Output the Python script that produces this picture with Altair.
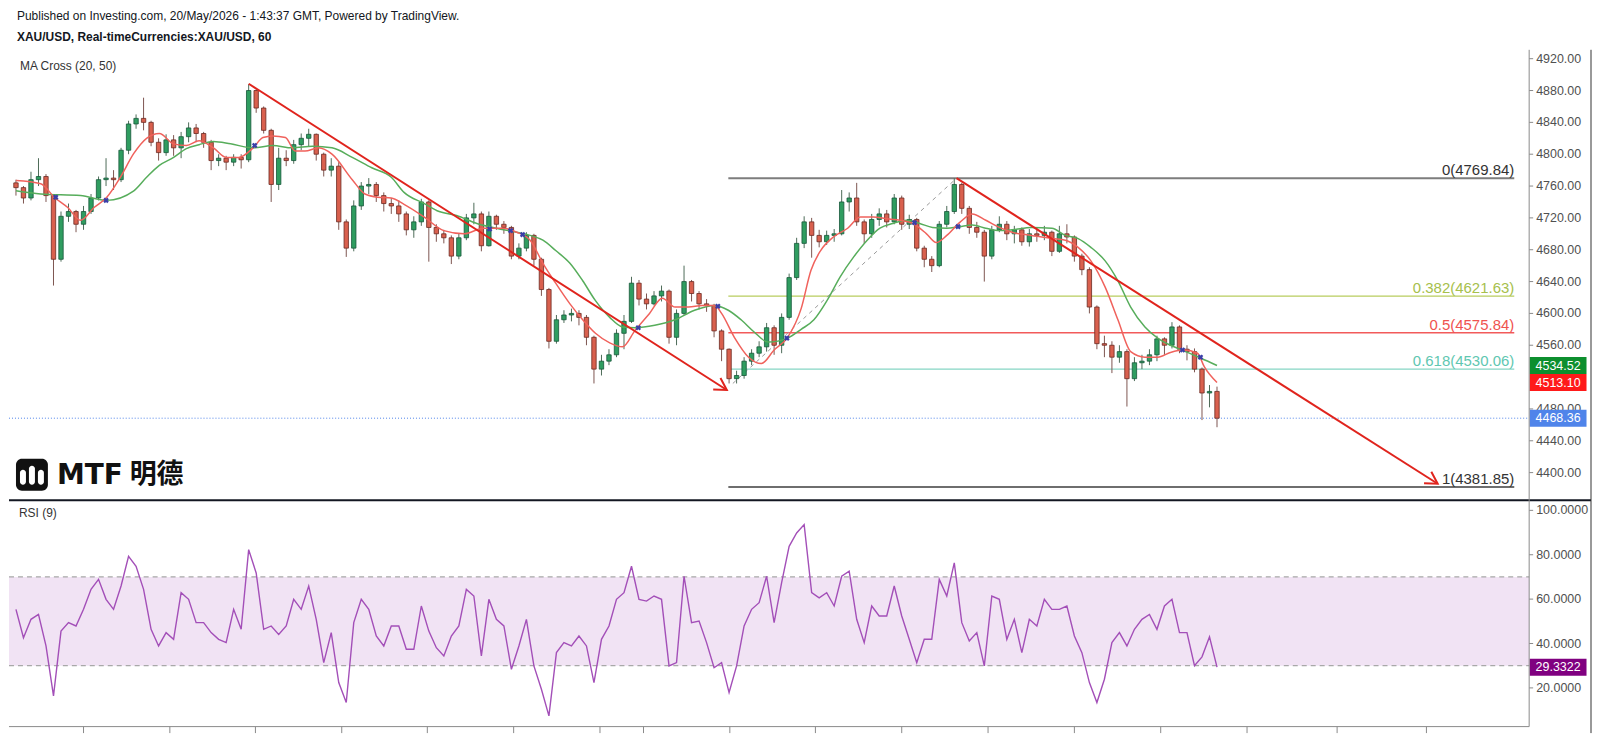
import altair as alt
import pandas as pd

# ---------------- text ----------------
HEADER_1 = "Published on Investing.com, 20/May/2026 - 1:43:37 GMT, Powered by TradingView."
HEADER_2 = "XAU/USD, Real-timeCurrencies:XAU/USD, 60"
MA_TITLE = "MA Cross (20, 50)"
RSI_TITLE = "RSI (9)"
LOGO_LATIN = "MTF"
LOGO_CJK = "明德"

# ---------------- data (2-hour bars, index 0..160) ----------------
first_open = 4764.0
closes = [
    4758, 4745, 4768, 4772, 4748, 4668, 4722, 4728, 4712, 4728,
    4745, 4768, 4770, 4768, 4805, 4838, 4845, 4840, 4815, 4802,
    4818, 4808, 4822, 4833, 4826, 4815, 4792, 4795, 4790, 4796,
    4793, 4880, 4858, 4830, 4762, 4795, 4792, 4812, 4820, 4825,
    4800, 4780, 4785, 4715, 4682, 4735, 4760, 4762, 4748, 4738,
    4735, 4725, 4705, 4715, 4740, 4708, 4700, 4695, 4672, 4695,
    4720, 4725, 4685, 4722, 4712, 4708, 4672, 4682, 4698, 4668,
    4630, 4565, 4592, 4598, 4600, 4595, 4570, 4530, 4540, 4548,
    4575, 4590, 4638, 4618, 4612, 4622, 4628, 4570, 4600, 4640,
    4625, 4612, 4610, 4578, 4555, 4518, 4522, 4540, 4550, 4558,
    4582, 4560, 4595, 4645, 4688, 4715, 4698, 4690, 4698, 4700,
    4740, 4745, 4715, 4700, 4718, 4725, 4715, 4745, 4712, 4718,
    4682, 4668, 4660, 4712, 4728, 4762, 4732, 4708, 4702, 4672,
    4705, 4712, 4700, 4705, 4690, 4700, 4698, 4702, 4678, 4700,
    4696, 4672, 4655, 4608, 4562, 4560, 4545, 4552, 4518, 4538,
    4540, 4548, 4568, 4560, 4583, 4555, 4552, 4530, 4500, 4502,
    4468.36]
highs = [
    4768, 4760, 4778, 4795, 4775, 4750, 4728, 4738, 4730, 4735,
    4750, 4772, 4795, 4780, 4808, 4842, 4850, 4871, 4842, 4820,
    4825, 4824, 4828, 4840, 4838, 4828, 4818, 4800, 4798, 4800,
    4800, 4888, 4882, 4860, 4832, 4808, 4805, 4818, 4826, 4832,
    4826, 4802, 4795, 4790, 4718, 4742, 4765, 4770, 4765, 4752,
    4745, 4742, 4728, 4722, 4744, 4742, 4712, 4705, 4698, 4700,
    4725, 4739, 4728, 4728, 4724, 4716, 4710, 4688, 4702, 4700,
    4670, 4632, 4598, 4604, 4606, 4604, 4598, 4572, 4548, 4555,
    4580, 4598, 4646, 4642, 4625, 4628, 4635, 4630, 4605, 4660,
    4642, 4628, 4618, 4612, 4580, 4556, 4528, 4545, 4555, 4565,
    4588, 4585, 4600, 4650, 4695, 4722, 4720, 4705, 4704, 4706,
    4755, 4752, 4764, 4718, 4725, 4732, 4730, 4750, 4748, 4724,
    4720, 4685, 4672, 4716, 4735, 4769.84, 4764, 4735, 4715, 4705,
    4710, 4722, 4716, 4710, 4708, 4706, 4708, 4710, 4704, 4710,
    4712, 4698, 4675, 4658, 4610, 4572, 4565, 4560, 4555, 4545,
    4548, 4555, 4572, 4570, 4589, 4585, 4560, 4556, 4532, 4510,
    4508]
lows = [
    4748, 4738, 4742, 4760, 4740, 4635, 4665, 4715, 4702, 4705,
    4725, 4742, 4760, 4755, 4765, 4800, 4832, 4830, 4810, 4792,
    4798, 4798, 4795, 4815, 4815, 4808, 4780, 4785, 4780, 4785,
    4782, 4790, 4852, 4826, 4740, 4755, 4785, 4788, 4805, 4810,
    4792, 4772, 4772, 4705, 4671, 4678, 4730, 4750, 4740, 4728,
    4725, 4715, 4698, 4695, 4710, 4665, 4690, 4688, 4662, 4668,
    4692, 4712, 4678, 4684, 4705, 4700, 4668, 4668, 4678, 4660,
    4622, 4556, 4562, 4588, 4590, 4585, 4560, 4512, 4522, 4535,
    4545, 4555, 4588, 4610, 4605, 4610, 4615, 4562, 4560, 4598,
    4615, 4605, 4602, 4570, 4540, 4512, 4512, 4518, 4535, 4545,
    4552, 4548, 4550, 4592, 4642, 4682, 4670, 4683, 4686, 4690,
    4698, 4728, 4710, 4688, 4695, 4710, 4708, 4712, 4705, 4706,
    4678, 4658, 4652, 4658, 4708, 4725, 4725, 4700, 4695, 4640,
    4668, 4702, 4692, 4688, 4685, 4684, 4690, 4692, 4672, 4676,
    4688, 4665, 4648, 4600, 4555, 4545, 4525, 4538, 4483, 4515,
    4530, 4535, 4540, 4548, 4556, 4550, 4541, 4526, 4466, 4482,
    4457]

rsi = [
    55.4, 42.6, 50.9, 53.1, 38.9, 16.4, 45.6, 49.4, 47.9, 55.4,
    64.4, 68.9, 59.9, 55.4, 65.9, 79.3, 74.8, 64.4, 46.4, 38.9,
    44.9, 41.9, 62.9, 59.9, 49.4, 49.4, 44.9, 41.9, 40.4, 55.4,
    46.4, 82.3, 71.8, 46.4, 47.9, 44.1, 47.9, 59.9, 55.4, 65.9,
    50.9, 31.4, 44.9, 22.4, 13.4, 49.4, 59.9, 55.4, 43.4, 38.9,
    47.9, 47.9, 37.4, 37.4, 56.9, 45.6, 38.1, 34.4, 43.4, 47.9,
    64.4, 61.4, 34.4, 59.9, 50.9, 47.9, 28.4, 38.9, 50.9, 29.9,
    19.4, 7.4, 35.9, 40.4, 38.9, 43.4, 38.9, 22.4, 41.9, 47.9,
    59.9, 62.9, 74.8, 59.9, 59.1, 61.4, 59.9, 29.9, 31.4, 70.3,
    49.4, 50.1, 40.4, 29.1, 31.4, 17.9, 29.9, 47.9, 55.4, 58.4,
    70.3, 49.4, 67.4, 83.8, 89.8, 93.6, 62.9, 60.6, 62.9, 56.9,
    70.3, 72.6, 50.9, 40.4, 56.9, 52.4, 52.4, 65.9, 52.4, 41.9,
    31.4, 41.9, 41.9, 68.9, 61.4, 76.3, 49.4, 41.1, 44.9, 29.9,
    61.4, 59.9, 41.9, 50.9, 35.9, 50.9, 47.9, 59.9, 55.4, 55.4,
    56.9, 43.4, 35.9, 22.4, 13.4, 23.9, 40.4, 44.9, 38.9, 46.4,
    50.9, 53.1, 46.4, 56.9, 59.9, 44.9, 44.9, 30.0, 34.0, 43.0,
    29.3322]

ma20_i = [0, 3.3, 5.1, 6.9, 8.6, 10.4, 12.1, 13.9, 15.7, 17.4,
          19.1, 21.0, 22.7, 24.4, 26.3, 28.0, 29.7, 31.6, 32.9, 34.2,
          35.9, 37.2, 38.5, 40.3, 42.1, 44.8, 46.5, 48.2, 50.0, 51.7,
          54.4, 57.0, 59.7, 62.3, 64.9, 66.7, 68.5, 70.2, 71.9, 73.8,
          75.5, 77.2, 79.1, 80.8, 82.5, 84.4, 86.1, 87.8, 89.6, 91.4,
          93.1, 94.0, 95.7, 97.6, 99.3, 101.0, 102.8, 104.6, 105.9, 107.2,
          108.9, 110.8, 112.5, 114.2, 116.0, 117.8, 119.5, 121.3, 122.6, 124.0,
          125.7, 127.4, 129.2, 131.0, 132.7, 135.3, 138.0, 139.8, 141.5, 143.2,
          145.1, 146.8, 148.5, 150.4, 152.1, 153.8, 155.6, 157.4, 158.3, 160.0]
ma20_v = [4767, 4763, 4746, 4733, 4717, 4733, 4746, 4771, 4801, 4820,
          4826, 4813, 4811, 4817, 4808, 4796, 4796, 4808, 4821, 4823,
          4821, 4804, 4804, 4808, 4800, 4768, 4750, 4746, 4745, 4737,
          4721, 4704, 4700, 4707, 4707, 4702, 4692, 4663, 4638, 4612,
          4592, 4575, 4563, 4558, 4579, 4600, 4619, 4608, 4608, 4610,
          4610, 4600, 4570, 4545, 4537, 4554, 4570, 4606, 4654, 4679,
          4696, 4707, 4721, 4721, 4719, 4717, 4713, 4700, 4689, 4698,
          4714, 4725, 4717, 4708, 4702, 4698, 4694, 4692, 4683, 4666,
          4633, 4592, 4552, 4545, 4545, 4551, 4554, 4550, 4533, 4513.1]
ma50_i = [0, 3.3, 8.6, 12.1, 15.7, 17.4, 19.1, 21.0, 22.7, 24.4,
          26.3, 28.6, 31.6, 34.2, 36.8, 39.5, 42.1, 44.8, 47.4, 50.0,
          51.7, 54.4, 56.1, 58.7, 61.4, 64.0, 66.7, 68.5, 70.2, 71.9,
          73.8, 75.5, 77.2, 79.1, 80.8, 82.5, 85.1, 87.8, 90.4, 93.1,
          94.9, 96.6, 98.3, 100.2, 102.8, 104.6, 106.3, 108.1, 109.8, 111.6,
          113.4, 115.1, 116.8, 118.7, 120.4, 122.1, 124.0, 125.7, 127.4, 129.2,
          131.0, 132.7, 135.3, 138.0, 139.8, 141.5, 143.2, 145.1, 146.8, 148.5,
          150.4, 152.1, 153.8, 155.6, 157.8, 160.0]
ma50_v = [4754, 4750, 4748, 4742, 4754, 4771, 4786, 4796, 4807, 4812,
          4816, 4813, 4808, 4811, 4808, 4810, 4808, 4796, 4783, 4771,
          4752, 4738, 4729, 4723, 4713, 4707, 4702, 4698, 4692, 4679,
          4663, 4641, 4616, 4595, 4583, 4582, 4585, 4592, 4604, 4610,
          4604, 4592, 4577, 4564, 4569, 4580, 4592, 4617, 4646, 4671,
          4692, 4707, 4713, 4717, 4713, 4708, 4707, 4709, 4711, 4707,
          4704, 4705, 4708, 4707, 4698, 4694, 4683, 4666, 4641, 4608,
          4583, 4569, 4560, 4553, 4544, 4534.52]
cross_i = [5.3, 12.0, 31.8, 63.1, 65.9, 67.5, 82.9, 93.5, 102.7, 119.7, 125.5, 155.4, 157.8]
cross_p = [4746, 4742, 4811, 4706, 4704, 4699, 4582, 4609, 4569, 4714, 4709, 4554, 4545]

fib_levels = ["0", "0.382", "0.5", "0.618", "1"]
fib_prices = [4769.84, 4621.63, 4575.84, 4530.06, 4381.85]
fib_start = 94.9
fib_end = 199.6
swing_i = [95.5, 125.3]
swing_p = [4512.0, 4769.84]
trend_i0 = [31.0, 125.3]
trend_p0 = [4888.5, 4769.84]
trend_i1 = [94.7, 189.4]
trend_p1 = [4503.8, 4386.0]

last_price = 4468.36
tag_values = [4534.52, 4513.10, 4468.36]
rsi_last = 29.3322
rsi_levels = [30, 70]
# 4520.00 is hidden behind the price tags in the reference, so it is not listed
price_ticks = [4400, 4440, 4480, 4560, 4600, 4640, 4680, 4720, 4760, 4800, 4840, 4880, 4920]
rsi_ticks = [20, 40, 60, 80, 100]
time_ticks = [9.0, 20.5, 31.9, 43.4, 54.8, 66.3, 77.8, 83.6, 95.1, 106.5, 118.0,
              129.5, 141.0, 152.5, 164.0, 176.0, 187.9]

# ---------------- styles / layout ----------------
W, H = 1524, 726
FONT = "Liberation Sans"
UP_FILL, UP_LINE, UP_WICK = "#2f9d60", "#17573a", "#4d6b58"
DN_FILL, DN_LINE, DN_WICK = "#d9604e", "#6b2a22", "#7d5550"
MA20_COLOR, MA50_COLOR = "#f0625c", "#57ad5b"
CROSS_COLOR = "#3a3fa8"
RED_LINE = "#e0241d"
BLUE = "#4f84ea"
FIB_LINE_COLORS = ["#7d7d7d", "#b8cd5e", "#f25a5a", "#86d6c4", "#6e6e6e"]
FIB_TEXT_COLORS = ["#333333", "#a6c04c", "#ef5350", "#5fc7b1", "#333333"]
FIB_WIDTHS = [2, 1.2, 1.5, 1.2, 2]
TAG_COLORS = ["#0d8f2e", "#ff1a1a", BLUE]
RSI_COLOR = "#a34fb8"
BAND_COLOR = "#f1e3f4"
AXIS_GREY = "#8a8a8a"
LABEL_GREY = "#505050"
TAG_PATH = "M-1,-0.3H1V0.3H-1Z"
ARROW_PATH = "M-1,-0.58L0,0L-1,0.58"
TAG_X = 1553
LABEL_X = 1531

xs = alt.Scale(domain=[-0.264, 200.92], nice=False, zero=False)
ps = alt.Scale(domain=[4072.76, 4982.53], nice=False, zero=False)
rs = alt.Scale(domain=[-0.36, 325.93], nice=False, zero=False)


def X(f):
    return alt.X(f, type="quantitative", scale=xs, axis=None)


def PY(f):
    return alt.Y(f, type="quantitative", scale=ps, axis=None)


def RY(f):
    return alt.Y(f, type="quantitative", scale=rs, axis=None)


# ---------------- tables ----------------
opens = [first_open] + closes[:-1]
candles = pd.DataFrame({"i": list(range(len(closes))), "o": opens, "h": highs,
                        "l": lows, "c": closes})
UP = "datum.c >= datum.o"

ma20 = pd.DataFrame({"i": ma20_i, "v": ma20_v})
ma50 = pd.DataFrame({"i": ma50_i, "v": ma50_v})
crosses = pd.DataFrame({"i": cross_i, "p": cross_p})
fib = pd.DataFrame({"lvl": fib_levels, "p": fib_prices,
                    "s": [fib_start] * len(fib_levels), "e": [fib_end] * len(fib_levels),
                    "lc": FIB_LINE_COLORS, "tc": FIB_TEXT_COLORS, "w": FIB_WIDTHS})
fib["label"] = [f"{l}({p:.2f})" for l, p in zip(fib_levels, fib_prices)]
swing = pd.DataFrame({"i0": [swing_i[0]], "i1": [swing_i[1]], "p0": [swing_p[0]], "p1": [swing_p[1]]})
trends = pd.DataFrame({"i0": trend_i0, "p0": trend_p0, "i1": trend_i1, "p1": trend_p1})
tags = pd.DataFrame({"p": tag_values, "col": TAG_COLORS,
                     "t": [f"{v:.2f}" for v in tag_values]})
last_df = pd.DataFrame({"p": [last_price]})
rsi_df = pd.DataFrame({"i": list(range(len(rsi))), "v": rsi})
band_df = pd.DataFrame({"lo": [rsi_levels[0]], "hi": [rsi_levels[1]]})
lvl_df = pd.DataFrame({"v": rsi_levels})
rsi_tag_df = pd.DataFrame({"v": [rsi_last], "t": [f"{rsi_last:.4f}"]})
tick_df = pd.DataFrame({"i": time_ticks})
pt_df = pd.DataFrame({"v": price_ticks, "t": [f"{v:.2f}" for v in price_ticks]})
rt_df = pd.DataFrame({"v": rsi_ticks, "t": [f"{v:.4f}" for v in rsi_ticks]})
ONE = pd.DataFrame({"k": [0]})

# ---------------- price panel ----------------
p_tick_marks = alt.Chart(pt_df).mark_rule(color=AXIS_GREY).encode(
    y=PY("v"), x=alt.value(W), x2=alt.value(W + 4))
p_tick_labels = alt.Chart(pt_df).mark_text(align="left", baseline="middle", fontSize=12.5,
                                           font=FONT, color=LABEL_GREY).encode(
    y=PY("v"), x=alt.value(LABEL_X), text="t:N")
wicks = alt.Chart(candles).mark_rule(strokeWidth=1).encode(
    x=X("i"), y=PY("l"), y2="h:Q",
    color=alt.condition(UP, alt.value(UP_WICK), alt.value(DN_WICK)))
bodies = alt.Chart(candles).mark_bar(size=4.4, strokeWidth=0.8).encode(
    x=X("i"), y=PY("o"), y2="c:Q",
    fill=alt.condition(UP, alt.value(UP_FILL), alt.value(DN_FILL)),
    stroke=alt.condition(UP, alt.value(UP_LINE), alt.value(DN_LINE)))
last_line = alt.Chart(last_df).mark_rule(color=BLUE, strokeDash=[1, 2], strokeWidth=1).encode(
    y=PY("p"), x=alt.value(0), x2=alt.value(W))
fib_lines = alt.Chart(fib).mark_rule().encode(
    x=X("s"), x2="e:Q", y=PY("p"),
    color=alt.Color("lc:N", scale=None), strokeWidth=alt.StrokeWidth("w:Q", scale=None))
fib_text = alt.Chart(fib).mark_text(align="right", baseline="alphabetic", dy=-3,
                                    fontSize=15, font=FONT).encode(
    x=X("e"), y=PY("p"), text="label:N", color=alt.Color("tc:N", scale=None))
swing_line = alt.Chart(swing).mark_rule(strokeDash=[4, 4], color="#9a9a9a", strokeWidth=1).encode(
    x=X("i0"), x2="i1:Q", y=PY("p0"), y2="p1:Q")
ma20_line = alt.Chart(ma20).mark_line(color=MA20_COLOR, strokeWidth=1.5, interpolate="monotone").encode(
    x=X("i"), y=PY("v"))
ma50_line = alt.Chart(ma50).mark_line(color=MA50_COLOR, strokeWidth=1.5, interpolate="monotone").encode(
    x=X("i"), y=PY("v"))
cross_pts = alt.Chart(crosses).mark_point(shape="cross", angle=45, filled=True, size=32,
                                          color=CROSS_COLOR, opacity=1).encode(x=X("i"), y=PY("p"))
trend_lines = alt.Chart(trends).mark_rule(color=RED_LINE, strokeWidth=2).encode(
    x=X("i0"), x2="i1:Q", y=PY("p0"), y2="p1:Q")
arrows = alt.Chart(trends).mark_point(shape=ARROW_PATH, size=560, filled=False, strokeWidth=2,
                                      color=RED_LINE, angle=32, opacity=1).encode(
    x=X("i1"), y=PY("p1"))
tag_box = alt.Chart(tags).mark_point(shape=TAG_PATH, size=57 * 57, filled=True, opacity=1,
                                     strokeWidth=0).encode(
    x=alt.value(TAG_X), y=PY("p"), color=alt.Color("col:N", scale=None))
tag_text = alt.Chart(tags).mark_text(color="white", fontSize=12.5, font=FONT).encode(
    x=alt.value(TAG_X), y=PY("p"), text="t:N")

price_group = alt.layer(p_tick_marks, p_tick_labels, fib_lines, swing_line, last_line, wicks,
                        bodies, ma50_line, ma20_line, cross_pts, trend_lines, arrows, fib_text,
                        tag_box, tag_text)

# ---------------- RSI panel ----------------
band = alt.Chart(band_df).mark_rect(color=BAND_COLOR).encode(
    x=alt.value(0), x2=alt.value(W), y=RY("lo"), y2="hi:Q")
lvl_lines = alt.Chart(lvl_df).mark_rule(color="#a8a8a8", strokeDash=[5, 4], strokeWidth=1.2).encode(
    y=RY("v"), x=alt.value(0), x2=alt.value(W))
r_tick_marks = alt.Chart(rt_df).mark_rule(color=AXIS_GREY).encode(
    y=RY("v"), x=alt.value(W), x2=alt.value(W + 4))
r_tick_labels = alt.Chart(rt_df).mark_text(align="left", baseline="middle", fontSize=12.5,
                                           font=FONT, color=LABEL_GREY).encode(
    y=RY("v"), x=alt.value(LABEL_X), text="t:N")
rsi_line = alt.Chart(rsi_df).mark_line(color=RSI_COLOR, strokeWidth=1.4).encode(
    x=X("i"), y=RY("v"))
rsi_box = alt.Chart(rsi_tag_df).mark_point(shape=TAG_PATH, size=57 * 57, filled=True, opacity=1,
                                           strokeWidth=0, color="#800080").encode(
    x=alt.value(TAG_X), y=RY("v"))
rsi_box_text = alt.Chart(rsi_tag_df).mark_text(color="white", fontSize=12.5, font=FONT).encode(
    x=alt.value(TAG_X), y=RY("v"), text="t:N")
time_tick_marks = alt.Chart(tick_df).mark_rule(color=AXIS_GREY).encode(
    x=X("i"), y=alt.value(719.5), y2=alt.value(726))

rsi_group = alt.layer(band, lvl_lines, r_tick_marks, r_tick_labels, rsi_line, rsi_box,
                      rsi_box_text, time_tick_marks)


# ---------------- frame / texts / logo ----------------
def txt(s, x, y, size=12, weight="normal", color="#131722", font=FONT):
    return alt.Chart(ONE).mark_text(align="left", baseline="middle", fontSize=size,
                                    fontWeight=weight, color=color, font=font).encode(
        x=alt.value(x), y=alt.value(y), text=alt.value(s))


def hline(x1, x2, y, color, width=1):
    return alt.Chart(ONE).mark_rule(color=color, strokeWidth=width).encode(
        x=alt.value(x1), x2=alt.value(x2), y=alt.value(y))


def vline(x, y1, y2, color, width=1):
    return alt.Chart(ONE).mark_rule(color=color, strokeWidth=width).encode(
        x=alt.value(x), y=alt.value(y1), y2=alt.value(y2))


def box(x1, x2, y1, y2, color, r):
    return alt.Chart(ONE).mark_rect(color=color, cornerRadius=r).encode(
        x=alt.value(x1), x2=alt.value(x2), y=alt.value(y1), y2=alt.value(y2))


decor = alt.layer(
    txt(HEADER_1, 8, 7),
    txt(HEADER_2, 8, 28, weight="bold"),
    txt(MA_TITLE, 11, 57, color="#333333"),
    txt(RSI_TITLE, 10, 505, color="#333333"),
    hline(0, 1586, 492.5, "#131722", 2),
    hline(0, W, 719.5, AXIS_GREY),
    vline(W, 41, 719.5, AXIS_GREY),
    vline(1586, 41, 726, "#333333"),
    box(7, 39, 451, 483, "#111111", 6),
    box(11, 17, 462, 477, "#ffffff", 3),
    box(20, 26, 458, 477, "#ffffff", 3),
    box(29, 35, 462, 477, "#ffffff", 3),
    txt(LOGO_LATIN, 48, 468, size=28, weight="bold", color="#111111", font="DejaVu Sans"),
    txt(LOGO_CJK, 121, 467, size=27, weight="bold", color="#111111", font="Noto Sans CJK SC"),
)

chart = alt.layer(price_group, rsi_group, decor).resolve_scale(y="independent").properties(
    width=W, height=H, padding=0
).configure_view(stroke=None)

chart.save("out.html", embed_options={"renderer": "svg", "actions": False})
